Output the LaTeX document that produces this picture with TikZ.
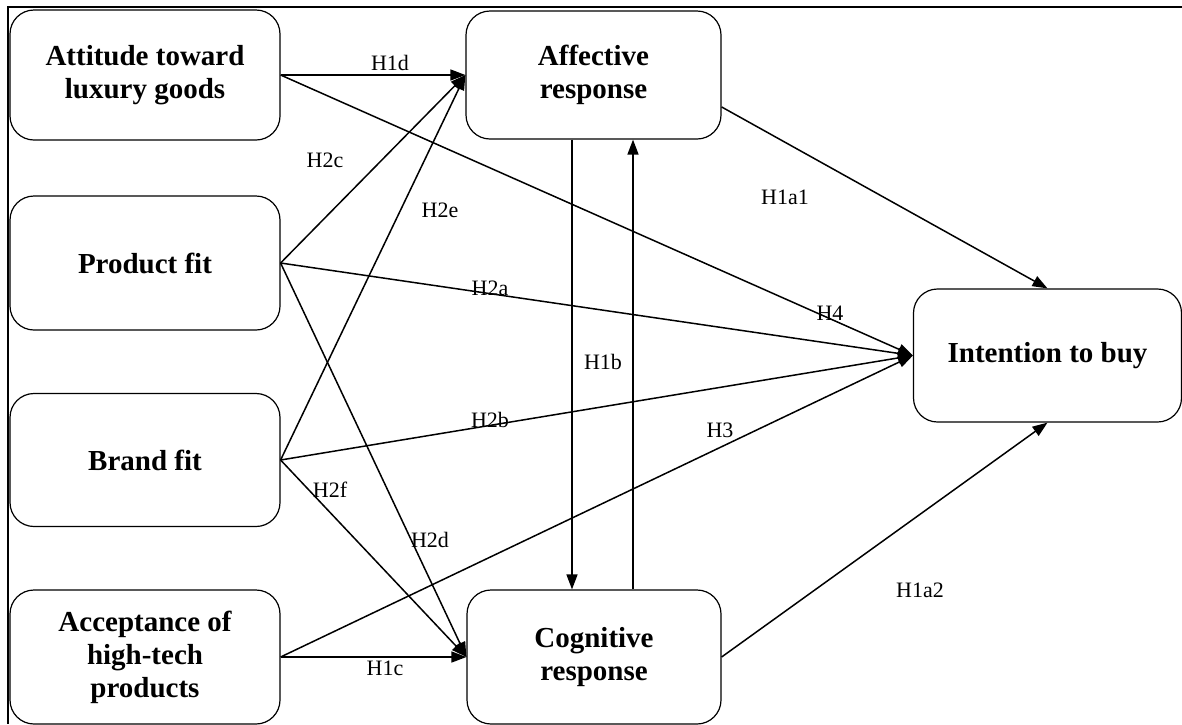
\documentclass[tikz,border=0pt]{standalone}
\usepackage{fontspec}
\setmainfont{Liberation Serif}
\usetikzlibrary{arrows.meta}
\begin{document}
\begin{tikzpicture}[x=0.5pt,y=-0.5pt,
  construct/.style={draw,line width=0.6pt,rounded corners=12pt,align=center,
    inner sep=0pt,font=\bfseries\fontsize{14.5}{16.5}\selectfont},
  hyp/.style={-{Triangle[length=7.5pt,width=5.5pt]},line width=0.75pt},
  hlabel/.style={inner sep=1pt,font=\fontsize{11}{13}\selectfont}]
  \useasboundingbox (0,0) rectangle (1182,724);

  % frame
  \draw[line width=0.9pt] (1182,7) -- (8,7) -- (8,724);

  \node[construct,minimum width=135pt,minimum height=65pt] (att) at (145,75) {Attitude toward\\luxury goods};
  \node[construct,minimum width=135pt,minimum height=67pt] (prod) at (145,263) {Product fit};
  \node[construct,minimum width=135pt,minimum height=66.5pt] (brand) at (145,460) {Brand fit};
  \node[construct,minimum width=135pt,minimum height=67pt] (acc) at (145,657) {Acceptance of\\high-tech\\products};
  \node[construct,minimum width=127.5pt,minimum height=64pt] (aff) at (593.5,75) {Affective\\response};
  \node[construct,minimum width=127pt,minimum height=67pt] (cog) at (594,657) {Cognitive\\response};
  \node[construct,minimum width=134pt,minimum height=66.5pt] (int) at (1047.5,355.5) {Intention to buy};

  \draw[hyp] (att.east) -- (aff.west);
  \draw[hyp] (att.east) -- (int.west);
  \draw[hyp] (prod.east) -- (aff.west);
  \draw[hyp] (prod.east) -- (int.west);
  \draw[hyp] (prod.east) -- (cog.west);
  \draw[hyp] (brand.east) -- (aff.west);
  \draw[hyp] (brand.east) -- (int.west);
  \draw[hyp] (brand.east) -- (cog.west);
  \draw[hyp] (acc.east) -- (cog.west);
  \draw[hyp] (acc.east) -- (int.west);
  \draw[hyp] (aff.-14) -- (int.north);
  \draw[hyp] (cog.east) -- (int.south);

  % affective <-> cognitive
  \draw[hyp] (aff.south -| 572,0) -- (cog.north -| 572,0);
  \draw[hyp] (cog.north -| 633,0) -- (aff.south -| 633,0);

  \node[hlabel] (h1d) at (390,63) {H1d};
  \node[hlabel] (h2c) at (325,160) {H2c};
  \node[hlabel] (h2e) at (440,210) {H2e};
  \node[hlabel] (h1a1) at (785,197) {H1a1};
  \node[hlabel] (h4) at (830,313) {H4};
  \node[hlabel] (h2a) at (490,288) {H2a};
  \node[hlabel] (h1b) at (603,362) {H1b};
  \node[hlabel] (h2b) at (490,420) {H2b};
  \node[hlabel] (h3) at (720,430) {H3};
  \node[hlabel] (h2f) at (330,490) {H2f};
  \node[hlabel] (h2d) at (430,540) {H2d};
  \node[hlabel] (h1a2) at (920,590) {H1a2};
  \node[hlabel] (h1c) at (385,668) {H1c};

\end{tikzpicture}
\end{document}
